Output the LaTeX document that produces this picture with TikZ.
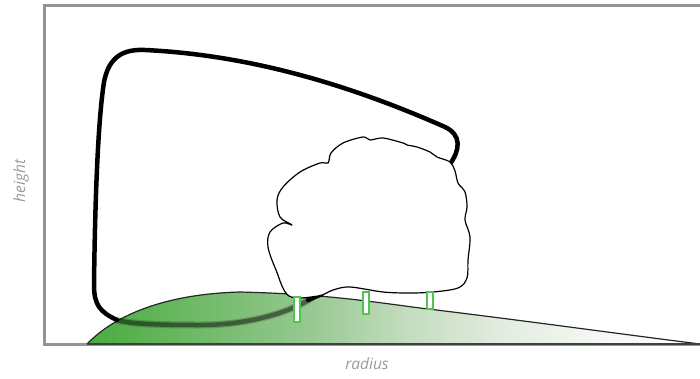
\documentclass[tikz,border=0pt]{standalone}
\usepackage{fontspec}
\setmainfont{Open Sans}
\definecolor{hillgreen}{RGB}{72,172,62}
\definecolor{stemgreen}{RGB}{80,195,80}
\pgfdeclarehorizontalshading{hillfade}{100bp}{
  color(0bp)=(hillgreen);
  color(25bp)=(hillgreen);
  color(42.5bp)=(rgb,255:red,148;green,199;blue,142);
  color(50.5bp)=(rgb,255:red,192;green,219;blue,187);
  color(58.5bp)=(rgb,255:red,226;green,236;blue,223);
  color(67bp)=(rgb,255:red,245;green,248;blue,244);
  color(75bp)=(white);
  color(100bp)=(white)}
\begin{document}
\begin{tikzpicture}[x=1pt,y=-1pt,
  frameline/.style={draw=black!42,line width=3pt},
  loopline/.style={draw=black,line width=4.5pt,line cap=round,line join=round},
  crownline/.style={draw=black,line width=1.2pt,fill=white,line join=round},
  stem/.style={draw=stemgreen,fill=white,line width=1.3pt},
  axislabel/.style={text=black!40,font=\itshape\fontsize{15.5}{18}\selectfont}]
\useasboundingbox (0,0) rectangle (700,378);
% axes frame
\draw[frameline] (700,5.5) -- (44,5.5) -- (44,344) -- (700,344);
% axis labels
\node[axislabel,rotate=90] (ylab) at (21,181) {height};
\node[axislabel] (xlab) at (367,364) {radius};
% green hill with left-to-right fade
\path[shading=hillfade]
  (87,344) .. controls (115,315) and (165,294) .. (240,292)
  .. controls (320,294) and (360,300) .. (420,308)
  .. controls (520,320) and (620,334) .. (700,344) -- cycle;
\draw[black!85,line width=1.2pt,line join=round]
  (87,344) .. controls (115,315) and (165,294) .. (240,292)
  .. controls (320,294) and (360,300) .. (420,308)
  .. controls (520,320) and (620,334) .. (700,344);
\draw[black!75,line width=1.8pt] (87,344) -- (700,344);
% part of the loop seen through the hill
\draw[loopline,draw opacity=0.18,line width=7pt]
  (312,298) .. controls (290,312) and (250,325) .. (200,325)
  .. controls (160,325) and (130,324) .. (117,320);
\draw[loopline,draw opacity=0.4]
  (312,298) .. controls (290,312) and (250,325) .. (200,325)
  .. controls (160,325) and (130,324) .. (117,320);
\draw[loopline] (322,294) -- (308,300);
% loop above ground
\draw[loopline]
  (117,320) .. controls (100,312) and (94,305) .. (94,285)
  .. controls (95,200) and (98,120) .. (104,82)
  .. controls (109,56) and (124,49) .. (145,50)
  .. controls (250,55) and (350,85) .. (445,127)
  .. controls (462,135) and (460,150) .. (450,164);
% tree crown
\draw[crownline] plot[smooth cycle,tension=0.55] coordinates {
  (289,296) (276,270) (268,247) (270,232) (283,223) (292,225)
  (280,217) (277,200) (283,187) (300,172) (320,163) (328,163)
  (331,153) (343,143) (363,137) (370,140) (383,138) (403,143)
  (407,145) (417,147) (430,152) (437,157) (450,162) (455,171)
  (458,183) (465,192) (467,207) (465,220) (470,237) (468,260)
  (467,278) (458,288) (433,292) (410,293) (383,292) (350,287)
  (333,290) (318,296)};
% trunks
\draw[stem] (294,297) rectangle (300,322);
\draw[stem] (363,292) rectangle (369,314);
\draw[stem] (427,292) rectangle (433,309);
\end{tikzpicture}
\end{document}
